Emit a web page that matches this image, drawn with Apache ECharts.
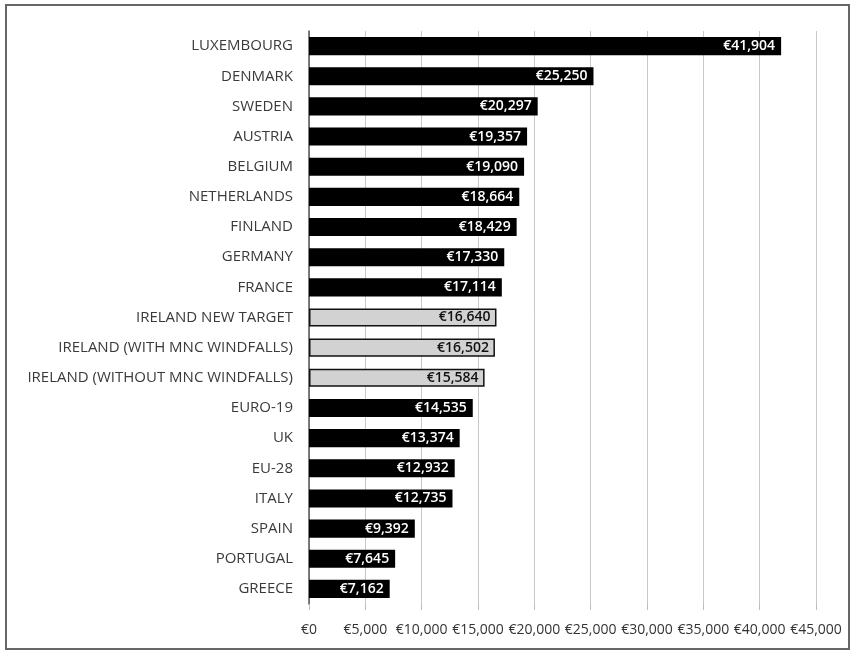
<!DOCTYPE html>
<html>
<head>
<meta charset="utf-8">
<script src="https://cdn.jsdelivr.net/npm/echarts@6/dist/echarts.min.js"></script>
<style>
	html,body{margin:0;padding:0;background:#fff;}
	#chart{width:855px;height:656px;}
</style>
</head>
<body>
<div id="chart"></div>
<script>
// categories top to bottom
var countries = ['LUXEMBOURG','DENMARK','SWEDEN','AUSTRIA','BELGIUM','NETHERLANDS','FINLAND','GERMANY','FRANCE',
	'IRELAND NEW TARGET','IRELAND (WITH MNC WINDFALLS)','IRELAND (WITHOUT MNC WINDFALLS)',
	'EURO-19','UK','EU-28','ITALY','SPAIN','PORTUGAL','GREECE']
var values = [41904,25250,20297,19357,19090,18664,18429,17330,17114,16640,16502,15584,14535,13374,12932,12735,9392,7645,7162]
// the Ireland rows are drawn light grey
var irishRows = ['IRELAND NEW TARGET','IRELAND (WITH MNC WINDFALLS)','IRELAND (WITHOUT MNC WINDFALLS)']

function euro(v){
	return '€' + v.toLocaleString('en-US')
}

var chart = echarts.init(document.getElementById('chart'))

var barData = []
for(var i = 0; i < values.length; i++){
	var grey = irishRows.indexOf(countries[i]) >= 0
	barData.push({
		value: values[i],
		itemStyle: grey ? {color:'#d2d2d2', borderColor:'#111', borderWidth:1.5} : {color:'#000'},
		label: {color: grey ? '#111' : '#fff'}
	})
}

var option = {
	animation: false,
	graphic: [{
		type: 'rect',
		shape: {x:6, y:5, width:843, height:644},
		style: {fill:'none', stroke:'#666', lineWidth:2}
	}],
	grid: {left:309, right:39, top:31, bottom:52, containLabel:false},
	xAxis: {
		type: 'value',
		min: 0,
		max: 45000,
		interval: 5000,
		axisLine: {show:false},
		axisTick: {show:true, length:6, lineStyle:{color:'#bdbdbd'}},
		splitLine: {show:true, lineStyle:{color:'#c8c8c8', width:1}},
		axisLabel: {
			margin: 19,
			color: '#333',
			fontSize: 14,
			fontFamily: 'Open Sans',
			formatter: function(v){ return euro(v) }
		}
	},
	yAxis: {
		type: 'category',
		inverse: true,
		data: countries,
		axisLine: {show:true, lineStyle:{color:'#555', width:1.5}},
		axisTick: {show:false},
		axisLabel: {
			margin: 16,
			color: '#3a3a3a',
			fontSize: 15,
			fontFamily: 'Open Sans'
		}
	},
	series: [{
		type: 'bar',
		data: barData,
		barCategoryGap: '40%',
		label: {
			show: true,
			position: 'insideRight',
			distance: 6,
			fontSize: 14,
			fontWeight: 600,
			fontFamily: 'Open Sans',
			formatter: function(p){ return euro(p.value) }
		}
	}]
}

chart.setOption(option)
window.addEventListener('resize', function(){
	chart.resize()
})
</script>
</body>
</html>
